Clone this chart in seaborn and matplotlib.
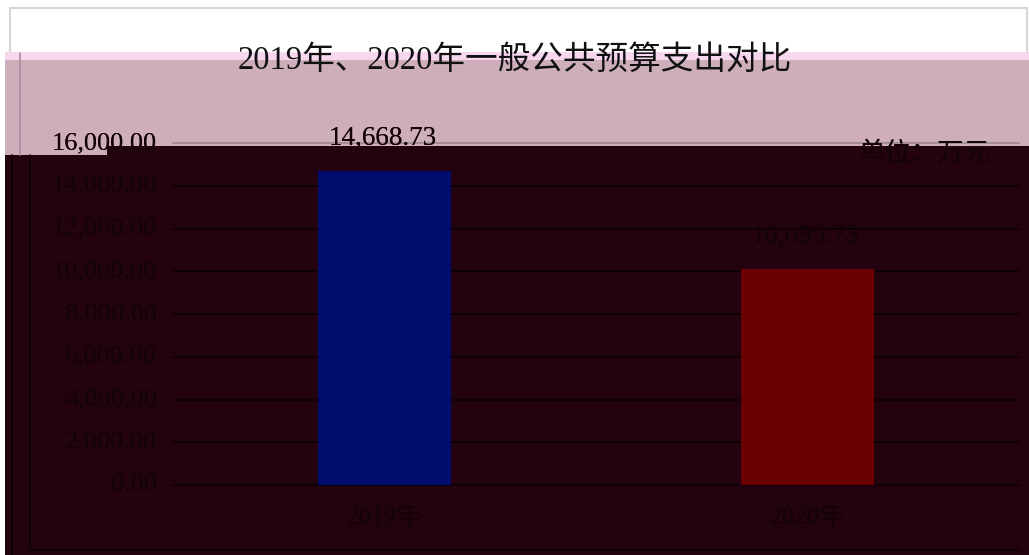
import matplotlib
matplotlib.use("Agg")
import matplotlib.pyplot as plt
import seaborn as sns
from matplotlib.patches import Rectangle, Polygon
from matplotlib.lines import Line2D

# ---- data ----
categories = ["2019年", "2020年"]
values = [14668.73, 10099.73]
bar_colors = ["#000c6e", "#6b0000"]
yticks = [0, 2000, 4000, 6000, 8000, 10000, 12000, 14000, 16000]
ytick_labels = [f"{v:,.2f}" for v in yticks]
value_labels = [f"{v:,.2f}" for v in values]
title = "2019年、2020年一般公共预算支出对比"
unit = "单位：万元"

sns.set_theme(style="white")
plt.rcParams["font.family"] = ["Liberation Serif", "Noto Sans CJK SC", "DejaVu Sans"]

W, H = 1029, 555
fig = plt.figure(figsize=(W / 100, H / 100), dpi=100)
fig.patch.set_facecolor("white")


def fx(x):
    return x / W


def fy(y):
    return 1 - y / H


def prect(x0, y0, x1, y1, color, z=-5):
    fig.add_artist(Rectangle((fx(x0), fy(y1)), (x1 - x0) / W, (y1 - y0) / H,
                             transform=fig.transFigure, facecolor=color,
                             edgecolor="none", zorder=z))


def pline(xs, ys, color, lw=1.2, z=-4):
    fig.add_artist(Line2D([fx(x) for x in xs], [fy(y) for y in ys],
                          transform=fig.transFigure, color=color, lw=lw, zorder=z))


DARK_BG = "#22030f"
MAUVE = "#cdaeba"
TXT_LIGHT = "#111111"
TXT_DARK = "#16000a"

# outer light gray frame (only top part visible)
fig.add_artist(Rectangle((fx(10), fy(560)), (1027 - 10) / W, (560 - 8) / H,
                         transform=fig.transFigure, facecolor="none",
                         edgecolor="#d6d6d6", lw=1.5, zorder=-6))
# overlay bands
prect(5, 52, 1029, 60, "#f7d7ee")
prect(5, 60, 1029, 146, MAUVE)
prect(5, 146, 107, 155, MAUVE)
prect(107, 146, 1029, 555, DARK_BG)
prect(5, 155, 107, 555, DARK_BG)
pline([20, 20], [53, 155], "#a88f9b")
pline([12, 12], [155, 555], "#0e0005")
pline([30, 30, 1020], [155, 550, 550], "#0e0005")

# clip regions (figure coords)
dark_pts = [(107, 146), (1029, 146), (1029, 555), (5, 555), (5, 155), (107, 155)]
light_pts = [(0, 0), (1029, 0), (1029, 146), (107, 146), (107, 155), (0, 155)]
dark_clip = Polygon([(fx(x), fy(y)) for x, y in dark_pts], closed=True,
                    transform=fig.transFigure)
light_clip = Polygon([(fx(x), fy(y)) for x, y in light_pts], closed=True,
                     transform=fig.transFigure)


def split_text(x, y, s, transform, **kw):
    for col, clip in ((TXT_LIGHT, light_clip), (TXT_DARK, dark_clip)):
        t = fig.text(x, y, s, transform=transform, color=col, **kw)
        t.set_clip_on(True)
        t.set_clip_path(clip)


# ---- axes ----
ax = fig.add_axes([fx(173), fy(485), (1019 - 173) / W, (485 - 143) / H])
ax.patch.set_visible(False)

sns.barplot(x=categories, y=values, hue=categories, palette=bar_colors,
            width=0.315, saturation=1, legend=False, ax=ax, zorder=3,
            edgecolor="none", linewidth=0)

ax.set_xlim(-0.5, 1.5)
ax.set_ylim(0, 16000)
ax.set_yticks(yticks)
ax.tick_params(axis="both", length=0, labelleft=False, labelbottom=False)
for s in ax.spines.values():
    s.set_visible(False)
for v in yticks:
    ax.axhline(v, color="#a08a94" if v == yticks[-1] else "#0e0005",
               lw=1.3, zorder=1, xmin=0, xmax=1, clip_on=False)
ax.set_xlabel("")
ax.set_ylabel("")

# y tick labels
ytr = ax.get_yaxis_transform()
for v, lab in zip(yticks, ytick_labels):
    split_text(-16 / 846, v, lab, ytr, ha="right", va="center", fontsize=19)

# x labels
xtr = ax.get_xaxis_transform()
for i, lab in enumerate(categories):
    split_text(i, -32 / 342, lab, xtr, ha="center", va="center", fontsize=18)

# value labels
for i, (v, lab) in enumerate(zip(values, value_labels)):
    split_text(i - 0.005, v + 950, lab, ax.transData, ha="center",
               va="bottom", fontsize=19.5)

# unit text
split_text(fx(990), fy(153), unit, fig.transFigure, ha="right",
           va="center", fontsize=19)

# title
fig.text(fx(515), fy(61), title, ha="center", va="center", fontsize=23.5,
         color="#111111")

fig.savefig("out.png", dpi=100)
